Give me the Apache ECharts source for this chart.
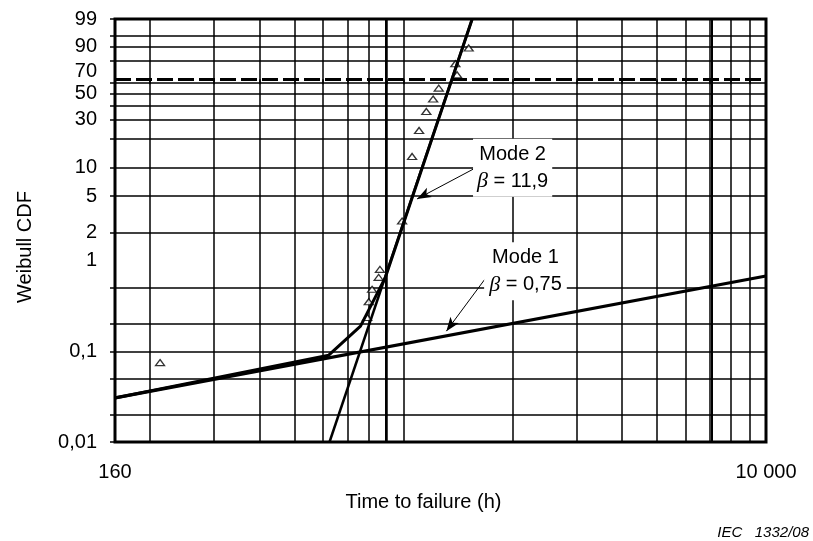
<!DOCTYPE html>
<html><head><meta charset="utf-8">
<script src="https://cdn.jsdelivr.net/npm/echarts@6/dist/echarts.min.js"></script>
<style>html,body{margin:0;padding:0;background:#fff}#c{width:813px;height:541px}</style>
</head><body><div id="c"></div>
<script>
// ---- data (hours, percent) ----
const xRange = [160, 10000];
const yRange = [0.01, 99];
const xGridHours = [200,300,400,500,600,700,800,900,1000,2000,3000,4000,5000,6000,7000,8000,9000];
const xHeavyGridHours = [900, 7000];
const xTickLabels = [160, 10000];
const yGridPercent = [0.01,0.02,0.05,0.1,0.2,0.5,2,5,10,20,30,40,50,60,80,90,95,99];
const yTickLabels = [0.01,0.1,1,2,5,10,30,50,70,90,99];
const mode1Hours = [160, 10000];
const mode1Percent = [0.0306, 0.674];
const mode2Hours = [625, 1547];
const mode2Percent = [0.01, 99];
const combinedHours = [160, 622, 761, 892, 1547];
const combinedPercent = [0.0306, 0.0906, 0.189, 0.656, 99];
const failureHours = [213, 794, 802, 819, 854, 861, 991, 1056, 1104, 1156, 1207, 1251, 1405, 1390, 1513];
const failurePercent = [0.075, 0.236, 0.351, 0.481, 0.651, 0.797, 2.69, 13.1, 23.8, 35.6, 45.3, 54.9, 67.3, 77.2, 89.0];
const characteristicPercent = 63.2;
const mode1Label = ['Mode 1', '0,75'];
const mode2Label = ['Mode 2', '11,9'];

// ---- Weibull probability paper transforms ----
const tx = h => Math.log10(h);
const ty = p => Math.log(-Math.log(1 - p / 100));
const pts = (hs, ps) => hs.map((h, i) => [tx(h), ty(ps[i])]);
const nearest = (v, list, f) => list.reduce((a, b) => Math.abs(f(b) - v) < Math.abs(f(a) - v) ? b : a);
const fmtX = v => { const h = nearest(v, xTickLabels, tx); return String(h).replace(/\B(?=(\d{3})+(?!\d))/g, ' '); };
const fmtY = v => String(nearest(v, yTickLabels, ty)).replace('.', ',');

const FONT = 'Liberation Sans, Arial, sans-serif';
const chart = echarts.init(document.getElementById('c'), null, {renderer: 'canvas'});

const labelStyle = {
  show: true, position: 'inside', color: '#000', fontFamily: FONT, fontSize: 20,
  lineHeight: 27, backgroundColor: '#fff', padding: [2, 5, 2, 5], align: 'center',
  rich: { b: { fontFamily: 'Liberation Serif, serif', fontStyle: 'italic', fontSize: 22, lineHeight: 27, color: '#000' } }
};
const arrowLine = (h1, p1, h2, p2) => ({
  silent: true, symbol: ['none', 'arrow'], symbolSize: [8, 14], animation: false,
  label: {show: false}, lineStyle: {color: '#000', width: 1, type: 'solid'},
  emphasis: {disabled: true},
  data: [[{coord: [tx(h1), ty(p1)]}, {coord: [tx(h2), ty(p2)]}]]
});

chart.setOption({
  animation: false,
  grid: {left: 115, right: 47, top: 19, bottom: 99, show: true, borderColor: '#000', borderWidth: 3, backgroundColor: 'transparent'},
  xAxis: {
    type: 'value', min: tx(xRange[0]), max: tx(xRange[1]),
    name: 'Time to failure (h)', nameLocation: 'middle', nameGap: 50,
    nameTextStyle: {fontFamily: FONT, fontSize: 20, color: '#000', padding: [0, 34, 0, 0]},
    axisLine: {show: false},
    axisTick: {show: true, length: 5, inside: false, lineStyle: {color: '#000', width: 1.5}, customValues: [xRange[0]].concat(xGridHours, [xRange[1]]).map(tx)},
    axisLabel: {show: true, margin: 20, fontFamily: FONT, fontSize: 20, color: '#000', customValues: xTickLabels.map(tx), formatter: fmtX},
    splitLine: {show: true, lineStyle: {color: '#000', width: 1.5}}
  },
  yAxis: {
    type: 'value', min: ty(yRange[0]), max: ty(yRange[1]),
    name: 'Weibull CDF', nameLocation: 'middle', nameGap: 80,
    nameTextStyle: {fontFamily: FONT, fontSize: 20, color: '#000', padding: [0, 33, 0, 0]},
    axisLine: {show: false},
    axisTick: {show: true, length: 5, inside: false, lineStyle: {color: '#000', width: 1.5}, customValues: yGridPercent.map(ty)},
    axisLabel: {show: true, margin: 18, fontFamily: FONT, fontSize: 20, color: '#000', customValues: yTickLabels.map(ty), formatter: fmtY},
    splitLine: {show: true, lineStyle: {color: '#000', width: 1.5}}
  },
  series: [
    {
      type: 'line', name: 'Mode 1', data: pts(mode1Hours, mode1Percent), symbol: 'none',
      lineStyle: {color: '#000', width: 3.2}, silent: true, z: 3,
      markPoint: {silent: true, symbol: 'circle', symbolSize: 0, animation: false,
        data: [{coord: [tx(2170), ty(0.76)], label: Object.assign({}, labelStyle, {formatter: mode1Label[0] + '\n{b|β} = ' + mode1Label[1]})}]},
      markLine: arrowLine(1682, 0.632, 1313, 0.1667)
    },
    {
      type: 'line', name: 'Mode 2', data: pts(mode2Hours, mode2Percent), symbol: 'none',
      lineStyle: {color: '#000', width: 2.5}, silent: true, z: 3,
      markPoint: {silent: true, symbol: 'circle', symbolSize: 0, animation: false,
        data: [{coord: [tx(2000), ty(10)], label: Object.assign({}, labelStyle, {padding: [2, 4, 2, 4], formatter: mode2Label[0] + '\n{b|β} = ' + mode2Label[1]})}]},
      markLine: arrowLine(1556, 9.67, 1090, 4.67)
    },
    {
      type: 'line', name: 'Combined', data: pts(combinedHours, combinedPercent), symbol: 'none',
      lineStyle: {color: '#000', width: 3}, silent: true, z: 3,
      markLine: {silent: true, symbol: 'none', animation: false, label: {show: false},
        lineStyle: {color: '#000', width: 3, type: [16, 5]},
        data: [{yAxis: ty(characteristicPercent)}]}
    },
    {
      type: 'scatter', name: 'Failures', data: pts(failureHours, failurePercent),
      symbol: 'triangle', symbolSize: [9, 6], silent: true, z: 2,
      itemStyle: {color: '#fff', borderColor: '#000', borderWidth: 1.3},
      markLine: {silent: true, symbol: 'none', animation: false, label: {show: false}, z: 1,
        lineStyle: {color: '#000', width: 2, type: 'solid'},
        data: xHeavyGridHours.map(h => ({xAxis: tx(h)}))}
    }
  ],
  graphic: [{
    type: 'text', right: 4, top: 525,
    style: {text: 'IEC   1332/08', fontFamily: FONT, fontSize: 15, fontStyle: 'italic', fill: '#000'}
  }]
});
</script>
</body></html>
